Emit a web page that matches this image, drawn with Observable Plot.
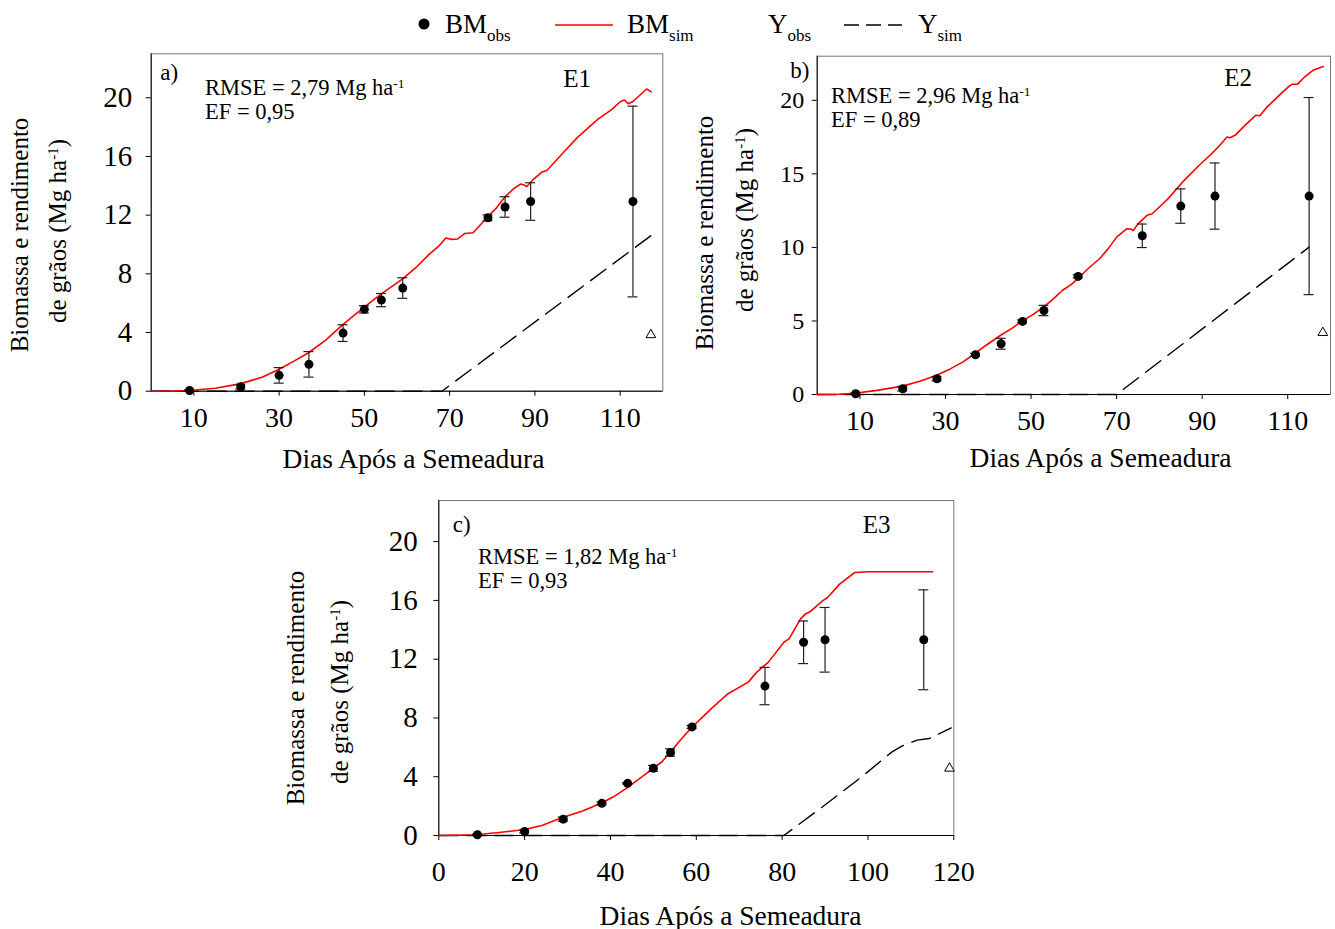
<!DOCTYPE html>
<html>
<head>
<meta charset="utf-8">
<script src="https://cdn.jsdelivr.net/npm/d3@7"></script>
<script src="https://cdn.jsdelivr.net/npm/@observablehq/plot@0.6"></script>
<style>
  body { margin: 0; background: white; }
  #fig { position: relative; width: 1335px; height: 929px; background: white; font-family: "Liberation Serif", "Times New Roman", serif; color: black; }
  .ov { position: absolute; white-space: nowrap; }
  .ann { font-size: 22.5px; line-height: 24px; }
  .ytitle { font-size: 25px; transform: translate(-50%, -50%) rotate(-90deg); }
  sup { font-size: 0.6em; vertical-align: 0.55em; line-height: 0; }
</style>
</head>
<body>
<div id="fig"></div>
<script>
// ---------- Panel a (E1) ----------
const daysA  = [9, 21, 30, 37, 45, 50, 54, 59, 79, 83, 89, 113];
const bmObsA = [0.05, 0.3, 1.08, 1.83, 3.96, 5.58, 6.21, 7.03, 11.82, 12.56, 12.93, 12.93];
const sdA    = [0.05, 0.15, 0.53, 0.87, 0.57, 0.25, 0.45, 0.7, 0.2, 0.7, 1.28, 6.5];
const simDaysA = [0, 5, 9, 15, 20.8, 26, 30, 33.5, 36.9, 41, 45, 49.9, 53.9, 58.9, 62, 65.2, 67.5, 69.1, 70.5, 71.9, 73.5, 75.5, 78.9, 81, 83, 85, 86.6, 87.5, 88.1, 89.5, 91.7, 92.8, 96.9, 100, 104.8, 108, 110, 111, 111.9, 113, 116.2, 117.3];
const bmSimA   = [0, 0.01, 0.05, 0.2, 0.5, 0.95, 1.5, 2.05, 2.62, 3.5, 4.55, 5.72, 6.62, 7.64, 8.4, 9.33, 9.9, 10.45, 10.35, 10.38, 10.75, 10.8, 11.88, 12.5, 13.25, 13.8, 14.12, 14.05, 13.95, 14.4, 14.95, 15.05, 16.34, 17.3, 18.55, 19.2, 19.73, 19.85, 19.6, 19.75, 20.6, 20.4];
const ySimDaysA = [0, 68.2, 117.3];
const ySimA     = [0, 0, 10.62];
const yObsDaysA = [117.2];
const yObsA     = [3.84];

// ---------- Panel b (E2) ----------
const daysB  = [9, 20, 28, 37, 43, 48, 53, 61, 76, 85, 93, 115];
const bmObsB = [0.05, 0.39, 1.07, 2.7, 3.45, 4.97, 5.71, 8.03, 10.79, 12.81, 13.49, 13.49];
const sdB    = [0.05, 0.15, 0.15, 0.1, 0.37, 0.1, 0.35, 0.1, 0.8, 1.17, 2.25, 6.7];
const simDaysB = [0, 5, 8.8, 14, 19.9, 24, 27.8, 31.1, 34, 36.8, 39.5, 42.8, 45.5, 47.8, 50.5, 52.9, 55, 57.3, 59.5, 60.9, 63.5, 66, 68, 70, 72.4, 73.3, 73.9, 75, 77.1, 78.3, 80, 82, 85.8, 89, 92.2, 94, 95.8, 96.5, 97.7, 100, 102.5, 103.5, 105, 108.8, 110.5, 111.1, 112.3, 114, 115.9, 118.3];
const bmSimB   = [0, 0.02, 0.09, 0.28, 0.57, 0.9, 1.29, 1.74, 2.2, 2.77, 3.35, 4.01, 4.5, 4.97, 5.45, 5.94, 6.45, 7.07, 7.5, 7.87, 8.6, 9.23, 9.9, 10.7, 11.27, 11.25, 11.15, 11.6, 12.18, 12.29, 12.75, 13.3, 14.56, 15.5, 16.37, 16.9, 17.5, 17.45, 17.62, 18.3, 18.98, 18.95, 19.5, 20.56, 21.0, 21.09, 21.1, 21.6, 22.04, 22.3];
const ySimDaysB = [0, 70, 115];
const ySimB     = [0, 0, 10.02];
const yObsDaysB = [118.2];
const yObsB     = [4.2];

// ---------- Panel c (E3) ----------
const daysC  = [9, 20, 29, 38, 44, 50, 54, 59, 76, 85, 90, 113];
const bmObsC = [0.05, 0.27, 1.11, 2.19, 3.55, 4.57, 5.65, 7.39, 10.17, 13.15, 13.32, 13.32];
const sdC    = [0.05, 0.1, 0.15, 0.1, 0.05, 0.2, 0.25, 0.1, 1.27, 1.45, 2.2, 3.4];
const simDaysC = [0, 8.7, 14, 19.7, 24, 28.8, 33.5, 37.8, 40.5, 43.7, 47.7, 52, 54, 56, 58.7, 63.5, 67.4, 72.1, 74.1, 76.8, 80.4, 81.6, 84.3, 85.5, 86.3, 89.5, 90.6, 93.4, 96.9, 100, 115.1];
const bmSimC   = [0, 0.05, 0.2, 0.39, 0.68, 1.22, 1.67, 2.19, 2.6, 3.21, 4.07, 5.02, 5.69, 6.4, 7.28, 8.64, 9.65, 10.44, 11.12, 11.8, 13.15, 13.38, 14.74, 15.1, 15.19, 15.98, 16.2, 17.11, 17.9, 17.95, 17.95];
const ySimDaysC = [0, 80.4, 89.5, 98.1, 105.6, 108, 111.5, 114.3, 119.4];
const ySimC     = [0, 0, 1.97, 3.89, 5.69, 6.1, 6.49, 6.6, 7.32];
const yObsDaysC = [119];
const yObsC     = [4.57];

// ---------- ticks & labels ----------
const xTicksAB = [10, 30, 50, 70, 90, 110];
const xTicksC  = [0, 20, 40, 60, 80, 100, 120];
const yTicksA  = [0, 4, 8, 12, 16, 20];
const yTicksB  = [0, 5, 10, 15, 20];
const yTicksC  = [0, 4, 8, 12, 16, 20];
const panelLetters = ["a)", "b)", "c)"];
const panelNames   = ["E1", "E2", "E3"];
const rmseVals = ["2,79", "2,96", "1,82"];
const efVals   = ["0,95", "0,89", "0,93"];
const xTitle = "Dias Após a Semeadura";

const FONT = "'Liberation Serif', 'Times New Roman', serif";
const fig = document.getElementById("fig");

function panel(p) {
  const obs = p.days.map((d, i) => ({d, v: p.bm[i], lo: p.bm[i] - p.sd[i], hi: p.bm[i] + p.sd[i]}));
  const sim = p.simDays.map((d, i) => ({d, v: p.sim[i]}));
  const ys  = p.ySimDays.map((d, i) => ({d, v: p.ySim[i]}));
  const yo  = p.yObsDays.map((d, i) => ({d, v: p.yObs[i]}));
  const chart = Plot.plot({
    width: p.w, height: p.h,
    marginLeft: p.mL, marginRight: p.mR, marginTop: p.mT, marginBottom: p.mB,
    x: {domain: [0, 120]},
    y: {domain: [0, p.yMax]},
    style: {background: "transparent", fontFamily: FONT, fontSize: "26px", color: "black", overflow: "visible"},
    marks: [
      Plot.frame({stroke: "#777", strokeWidth: 1}),
      Plot.ruleX([0], {stroke: "black"}),
      Plot.ruleY([0], {stroke: "black"}),
      Plot.axisX(p.xTicks, {tickSize: 5, tickPadding: p.xPad, fontSize: p.xFont, label: null}),
      Plot.axisY(p.yTicks, {tickSize: 5, tickPadding: p.yPad, fontSize: p.yFont, label: null}),
      Plot.line(ys, {x: "d", y: "v", stroke: "black", strokeWidth: 1.4, strokeDasharray: "19,9"}),
      Plot.line(sim, {x: "d", y: "v", stroke: "red", strokeWidth: 1.6}),
      Plot.ruleX(obs, {x: "d", y1: "lo", y2: "hi", stroke: "#222", strokeWidth: 1.2}),
      Plot.ruleY(obs, {x1: "d", x2: "d", y: "lo", insetLeft: -5, insetRight: -5, stroke: "#222", strokeWidth: 1.2}),
      Plot.ruleY(obs, {x1: "d", x2: "d", y: "hi", insetLeft: -5, insetRight: -5, stroke: "#222", strokeWidth: 1.2}),
      Plot.dot(obs, {x: "d", y: "v", r: 4.5, fill: "black", stroke: "none"}),
      Plot.dot(yo, {x: "d", y: "v", symbol: "triangle", r: 3.6, stroke: "black", strokeWidth: 1, fill: "white"}),
      Plot.text([p.letter], {frameAnchor: "top-left", textAnchor: "start", lineAnchor: "middle", dx: p.letterDx, dy: p.letterDy, fontSize: 23}),
      Plot.text([p.name], {frameAnchor: "top-left", textAnchor: "start", lineAnchor: "middle", dx: p.nameDx, dy: p.nameDy, fontSize: 25}),
      Plot.text([xTitle], {frameAnchor: "bottom", lineAnchor: "middle", dx: p.titleDx, dy: p.titleDy, fontSize: 27.5})
    ]
  });
  chart.style.position = "absolute";
  chart.style.left = p.left + "px";
  chart.style.top = p.top + "px";
  chart.style.maxWidth = "none";
  fig.appendChild(chart);
}

panel({days: daysA, bm: bmObsA, sd: sdA, simDays: simDaysA, sim: bmSimA, ySimDays: ySimDaysA, ySim: ySimA, yObsDays: yObsDaysA, yObs: yObsA,
  left: 0, top: 0, w: 680, h: 480, mL: 150.7, mR: 17.7, mT: 53.3, mB: 89.3, yMax: 23,
  xTicks: xTicksAB, yTicks: yTicksA, xPad: 11, yPad: 14, xFont: 28, yFont: 29,
  letter: panelLetters[0], letterDx: 9, letterDy: 19, name: panelNames[0], nameDx: 412, nameDy: 25, titleDx: 6.5, titleDy: 68});

panel({days: daysB, bm: bmObsB, sd: sdB, simDays: simDaysB, sim: bmSimB, ySimDays: ySimDaysB, ySim: ySimB, yObsDays: yObsDaysB, yObs: yObsB,
  left: 680, top: 0, w: 655, h: 480, mL: 136.7, mR: 5, mT: 55.7, mB: 86, yMax: 23,
  xTicks: xTicksAB, yTicks: yTicksB, xPad: 11, yPad: 8, xFont: 28, yFont: 24,
  letter: panelLetters[1], letterDx: -27, letterDy: 14, name: panelNames[1], nameDx: 407, nameDy: 22, titleDx: 26.7, titleDy: 64});

panel({days: daysC, bm: bmObsC, sd: sdC, simDays: simDaysC, sim: bmSimC, ySimDays: ySimDaysC, ySim: ySimC, yObsDays: yObsDaysC, yObs: yObsC,
  left: 250, top: 480, w: 730, h: 449, mL: 188.3, mR: 26.7, mT: 20, mB: 94, yMax: 22.8,
  xTicks: xTicksC, yTicks: yTicksC, xPad: 21, yPad: 16, xFont: 28, yFont: 29,
  letter: panelLetters[2], letterDx: 14, letterDy: 24, name: panelNames[2], nameDx: 424, nameDy: 24, titleDx: 34.2, titleDy: 81});

// ---------- HTML overlays: statistics and y titles ----------
function overlay(html, cls, left, top) {
  const el = document.createElement("div");
  el.className = "ov " + cls;
  el.style.left = left + "px";
  el.style.top = top + "px";
  el.innerHTML = html;
  fig.appendChild(el);
}
const annPos = [[205, 76], [831, 84], [478, 545]];
annPos.forEach(([l, t], i) => {
  overlay(`RMSE = ${rmseVals[i]} Mg ha<sup>-1</sup><br>EF = ${efVals[i]}`, "ann", l, t);
});
const yTitle1 = "Biomassa e rendimento";
const yTitle2 = "de grãos (Mg ha<sup>-1</sup>)";
const yTitlePos = [[[20, 235], [58, 231]], [[705, 233], [745, 220]], [[296, 688], [340, 692]]];
yTitlePos.forEach(([a, b]) => {
  overlay(yTitle1, "ytitle", a[0], a[1]);
  overlay(yTitle2, "ytitle", b[0], b[1]);
});

// ---------- Legend ----------
const legendItems = [
  {base: "BM", sub: "obs", x: 445, sym: "dot", sx: 424},
  {base: "BM", sub: "sim", x: 627, sym: "red", sx: 555},
  {base: "Y",  sub: "obs", x: 768, sym: "none"},
  {base: "Y",  sub: "sim", x: 918, sym: "dash", sx: 844}
];
const ns = "http://www.w3.org/2000/svg";
const leg = document.createElementNS(ns, "svg");
leg.setAttribute("width", 1335); leg.setAttribute("height", 52);
leg.style.position = "absolute"; leg.style.left = "0px"; leg.style.top = "0px";
leg.style.fontFamily = FONT;
legendItems.forEach(it => {
  if (it.sym === "dot") {
    const c = document.createElementNS(ns, "circle");
    c.setAttribute("cx", it.sx); c.setAttribute("cy", 24); c.setAttribute("r", 5.5); c.setAttribute("fill", "black");
    leg.appendChild(c);
  } else if (it.sym === "red" || it.sym === "dash") {
    const l = document.createElementNS(ns, "line");
    l.setAttribute("x1", it.sx); l.setAttribute("x2", it.sx + 58);
    l.setAttribute("y1", 25); l.setAttribute("y2", 25);
    l.setAttribute("stroke", it.sym === "red" ? "red" : "black");
    l.setAttribute("stroke-width", it.sym === "red" ? 1.3 : 1.5);
    if (it.sym === "dash") l.setAttribute("stroke-dasharray", "15,7");
    leg.appendChild(l);
  }
  const t = document.createElementNS(ns, "text");
  t.setAttribute("x", it.x); t.setAttribute("y", 33); t.setAttribute("font-size", 27);
  t.textContent = it.base;
  const s = document.createElementNS(ns, "tspan");
  s.setAttribute("dy", 8); s.setAttribute("font-size", 17);
  s.textContent = it.sub;
  t.appendChild(s);
  leg.appendChild(t);
});
fig.appendChild(leg);
</script>
</body>
</html>
